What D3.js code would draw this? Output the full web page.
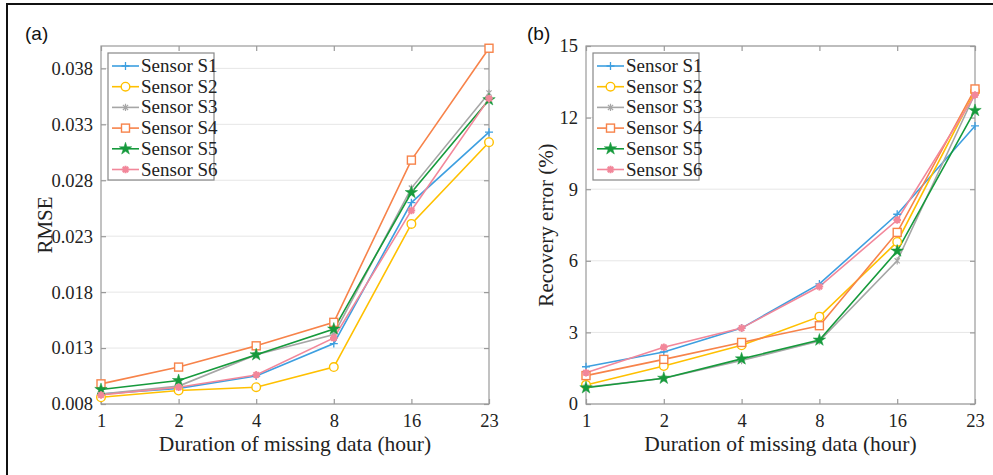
<!DOCTYPE html>
<html><head><meta charset="utf-8">
<script src="https://cdn.jsdelivr.net/npm/d3@7"></script>
<style>body{margin:0;background:#fff}svg{display:block}</style>
</head><body>
<svg id="c" width="993" height="475"></svg>
<script>
const xcats = ["1","2","4","8","16","23"];
const sensors = ["Sensor S1","Sensor S2","Sensor S3","Sensor S4","Sensor S5","Sensor S6"];
const rmse_S1 = [0.0089, 0.0094, 0.0105, 0.0134, 0.0260, 0.0323];
const rmse_S2 = [0.0086, 0.0092, 0.0095, 0.0113, 0.0241, 0.0314];
const rmse_S3 = [0.0089, 0.0096, 0.0124, 0.0142, 0.0273, 0.0358];
const rmse_S4 = [0.0098, 0.0113, 0.0132, 0.0153, 0.0298, 0.0398];
const rmse_S5 = [0.0093, 0.0101, 0.0124, 0.0147, 0.0269, 0.0352];
const rmse_S6 = [0.0088, 0.0095, 0.0106, 0.0139, 0.0253, 0.0353];
const err_S1 = [1.56, 2.18, 3.18, 5.03, 7.95, 11.65];
const err_S2 = [0.80, 1.59, 2.46, 3.66, 6.79, 13.1];
const err_S3 = [0.70, 1.08, 1.82, 2.64, 6.0, 13.0];
const err_S4 = [1.19, 1.87, 2.58, 3.28, 7.19, 13.2];
const err_S5 = [0.68, 1.08, 1.89, 2.68, 6.41, 12.3];
const err_S6 = [1.31, 2.38, 3.18, 4.92, 7.71, 12.95];
const rmseTicks = [0.008, 0.013, 0.018, 0.023, 0.028, 0.033, 0.038];
const errTicks = [0, 3, 6, 9, 12, 15];

const colors = ["#3d9fe0","#ffc000","#a6a6a6","#f7834a","#169a3c","#f2879a"];
const markers = ["plus","circle","asterisk","square","star","asterisk6"];

const svg = d3.select("#c");
const serif = "'Liberation Serif','Times New Roman',serif";
const sans = "'Liberation Sans',Arial,sans-serif";

// outer frame
svg.append("path").attr("d","M7,480 L7,4 L1000,4").attr("fill","none").attr("stroke","#111").attr("stroke-width",2);

function drawMarker(g, type, x, y, col){
  if(type==="plus"){
    g.append("path").attr("d",`M${x-4},${y}H${x+4}M${x},${y-4}V${y+4}`).attr("stroke",col).attr("stroke-width",1.3).attr("fill","none");
  } else if(type==="circle"){
    g.append("circle").attr("cx",x).attr("cy",y).attr("r",4.3).attr("fill","#fff").attr("stroke",col).attr("stroke-width",1.4);
  } else if(type==="square"){
    g.append("rect").attr("x",x-4).attr("y",y-4).attr("width",8).attr("height",8).attr("fill","#fff").attr("stroke",col).attr("stroke-width",1.4);
  } else if(type==="star"){
    g.append("path").attr("transform",`translate(${x},${y})`).attr("d",d3.symbol(d3.symbolStar,48)()).attr("fill",col).attr("stroke",col).attr("stroke-width",0.5);
  } else if(type==="asterisk"){
    const r=3.6, d=r*0.72;
    g.append("path").attr("d",`M${x-d},${y-d}L${x+d},${y+d}M${x-d},${y+d}L${x+d},${y-d}M${x},${y-r}V${y+r}`).attr("stroke",col).attr("stroke-width",1.2).attr("fill","none");
  } else if(type==="asterisk6"){
    const r=3.8, d=r*0.72;
    g.append("path").attr("d",`M${x-d},${y-d}L${x+d},${y+d}M${x-d},${y+d}L${x+d},${y-d}M${x},${y-r}V${y+r}M${x-r},${y}H${x+r}`).attr("stroke",col).attr("stroke-width",2).attr("fill","none");
  }
}

function panel(cfg){
  const g = svg.append("g");
  const x = d3.scalePoint().domain(xcats).range([cfg.x0, cfg.x1]).padding(0);
  const y = d3.scaleLinear().domain(cfg.ydom).range([cfg.y1, cfg.y0]);
  const frame = "#9a9a9a";
  g.append("g").selectAll("line").data(cfg.ticks).join("line")
    .attr("x1",cfg.x0).attr("x2",cfg.x1).attr("y1",d=>y(d)).attr("y2",d=>y(d))
    .attr("stroke","#e6e6e6").attr("stroke-width",1);
  g.append("rect").attr("x",cfg.x0).attr("y",cfg.y0).attr("width",cfg.x1-cfg.x0).attr("height",cfg.y1-cfg.y0)
    .attr("fill","none").attr("stroke",frame).attr("stroke-width",1.2);
  const xa = g.append("g").attr("transform",`translate(0,${cfg.y1})`)
    .call(d3.axisBottom(x).tickSize(-5).tickPadding(10));
  const xt = g.append("g").attr("transform",`translate(0,${cfg.y0})`)
    .call(d3.axisTop(x).tickSize(-5).tickFormat(""));
  const ya = g.append("g").attr("transform",`translate(${cfg.x0},0)`)
    .call(d3.axisLeft(y).tickValues(cfg.ticks).tickFormat(cfg.fmt).tickSize(-5).tickPadding(8));
  const yr = g.append("g").attr("transform",`translate(${cfg.x1},0)`)
    .call(d3.axisRight(y).tickValues(cfg.ticks).tickFormat("").tickSize(-5));
  [xa,xt,ya,yr].forEach(a=>{
    a.select(".domain").remove();
    a.selectAll(".tick line").attr("stroke",frame).attr("stroke-width",1.2);
    a.selectAll("text").attr("font-family",serif).attr("font-size",18.5).attr("fill","#222");
  });
  cfg.series.forEach((vals,i)=>{
    const line = d3.line().x((d,j)=>x(xcats[j])).y(d=>y(d));
    g.append("path").datum(vals).attr("d",line).attr("fill","none").attr("stroke",colors[i]).attr("stroke-width",1.6);
  });
  cfg.series.forEach((vals,i)=>{
    vals.forEach((v,j)=>drawMarker(g, markers[i], x(xcats[j]), y(v), colors[i]));
  });
  g.append("text").attr("x",(cfg.x0+cfg.x1)/2).attr("y",451).attr("text-anchor","middle")
    .attr("font-family",serif).attr("font-size",21.5).attr("fill","#222").text("Duration of missing data (hour)");
  g.append("text").attr("transform",`translate(${cfg.ylx},${(cfg.y0+cfg.y1)/2}) rotate(-90)`).attr("text-anchor","middle")
    .attr("font-family",serif).attr("font-size",21).attr("fill","#222").text(cfg.ylabel);
  g.append("text").attr("x",cfg.tagx).attr("y",40).attr("font-family",sans).attr("font-size",19).attr("fill","#111").text(cfg.tag);
  const lg = g.append("g");
  lg.append("rect").attr("x",cfg.lx).attr("y",53).attr("width",cfg.lw).attr("height",127)
    .attr("fill","#fff").attr("stroke","#888").attr("stroke-width",1.2);
  sensors.forEach((s,i)=>{
    const yy = 66 + i*20.7;
    lg.append("line").attr("x1",cfg.lx+4).attr("x2",cfg.lx+31).attr("y1",yy).attr("y2",yy).attr("stroke",colors[i]).attr("stroke-width",1.6);
    drawMarker(lg, markers[i], cfg.lx+17.5, yy, colors[i]);
    lg.append("text").attr("x",cfg.lx+33).attr("y",yy+6).attr("font-family",serif).attr("font-size",19).attr("fill","#222").text(s);
  });
}

panel({x0:101,x1:489,y0:46,y1:404,ydom:[0.008,0.040],ticks:rmseTicks,fmt:d3.format(".3f"),
  series:[rmse_S1,rmse_S2,rmse_S3,rmse_S4,rmse_S5,rmse_S6],ylabel:"RMSE",ylx:52,tag:"(a)",tagx:25,lx:108,lw:106});
panel({x0:586,x1:975,y0:46,y1:404,ydom:[0,15],ticks:errTicks,fmt:d3.format("d"),
  series:[err_S1,err_S2,err_S3,err_S4,err_S5,err_S6],ylabel:"Recovery error (%)",ylx:553,tag:"(b)",tagx:527,lx:593,lw:106});
</script>
</body></html>
